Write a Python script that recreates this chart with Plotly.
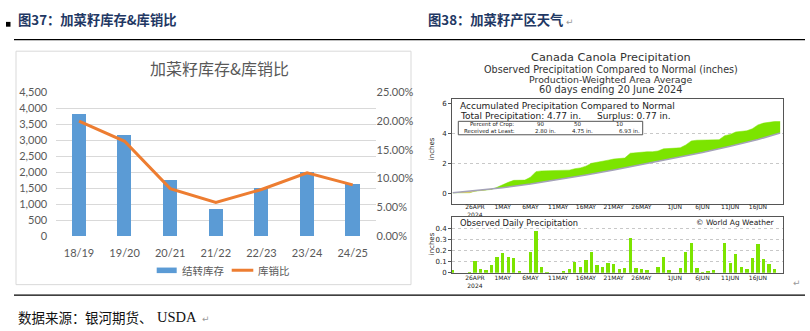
import numpy as np
import plotly.graph_objects as go

W, H = 810, 331


def px(x):
    return x / W


def py(y):
    return 1 - y / H


# ---- Figure 37: canola carry-over stocks and stocks-to-use ratio ----
seasons = ["18/19", "19/20", "20/21", "21/22", "22/23", "23/24", "24/25"]
carryover = [3830, 3180, 1770, 870, 1510, 2010, 1660]
stock_ratio = [0.200, 0.165, 0.0825, 0.0585, 0.081, 0.110, 0.089]

# ---- Figure 38: Canadian canola area precipitation, 60 days to 20 June 2024 ----
daily_precip = [
    0.02, 0.0, 0.0, 0.005, 0.105, 0.03, 0.02, 0.065, 0.145, 0.18,
    0.145, 0.135, 0.015, 0.0, 0.19, 0.375, 0.05, 0.005, 0.0, 0.0,
    0.015, 0.03, 0.095, 0.055, 0.115, 0.19, 0.07, 0.05, 0.09, 0.075,
    0.03, 0.04, 0.315, 0.045, 0.03, 0.025, 0.0, 0.055, 0.14, 0.025,
    0.0, 0.045, 0.19, 0.27, 0.045, 0.005, 0.01, 0.02, 0.0, 0.265,
    0.085, 0.165, 0.05, 0.03, 0.135, 0.255, 0.12, 0.075, 0.03, 0.0,
]
normal_days = [0, 4, 7, 9, 14, 19, 24, 29, 34, 40, 45, 50, 55, 59]
normal_accum = [0.03, 0.17, 0.28, 0.36, 0.60, 0.88, 1.20, 1.54, 1.90, 2.30, 2.70, 3.12, 3.57, 4.00]
tick_days = [4, 9, 14, 19, 24, 29, 34, 40, 45, 50, 55]
tick_text = ["26APR<br>2024", "1MAY", "6MAY", "11MAY", "16MAY", "21MAY",
             "26MAY", "1JUN", "6JUN", "11JUN", "16JUN"]
crop_pct = ["90", "50", "10"]
crop_received = [2.80, 4.75, 6.93]

days = np.arange(len(daily_precip))
obs_accum = np.cumsum(daily_precip)
total = obs_accum[-1]
surplus = total - normal_accum[-1]
deficit_end = 7  # observed stays under normal through this day

BLUE = "#5B9BD5"
ORANGE = "#ED7D31"
GREEN = "#7CE400"
GREY_TXT = "#595959"
NUM_FONT = "Lato"
CJK = "Noto Sans CJK SC"
WX_FONT = "DejaVu Sans"

fig = go.Figure()

fig.add_trace(go.Bar(
    x=seasons, y=carryover, name="结转库存", width=0.31,
    marker=dict(color=BLUE, line=dict(width=0)),
    xaxis="x", yaxis="y", showlegend=False,
))
fig.add_trace(go.Scatter(
    x=seasons, y=stock_ratio, name="库销比", mode="lines",
    line=dict(color=ORANGE, width=3),
    xaxis="x", yaxis="y2", showlegend=False,
))

# accumulated precipitation vs normal
fig.add_trace(go.Scatter(
    x=normal_days, y=normal_accum, mode="lines",
    line=dict(width=0, color="rgba(0,0,0,0)"),
    xaxis="x3", yaxis="y3", showlegend=False, hoverinfo="skip",
))
fig.add_trace(go.Scatter(
    x=days, y=obs_accum, mode="lines", fill="tonexty", fillcolor=GREEN,
    line=dict(width=0.5, color=GREEN),
    xaxis="x3", yaxis="y3", showlegend=False, name="Observed",
))
fig.add_trace(go.Scatter(
    x=normal_days[:3], y=normal_accum[:3], mode="lines",
    line=dict(width=0, color="rgba(0,0,0,0)"),
    xaxis="x3", yaxis="y3", showlegend=False, hoverinfo="skip",
))
fig.add_trace(go.Scatter(
    x=days[:deficit_end + 1], y=obs_accum[:deficit_end + 1], mode="lines",
    fill="tonexty", fillcolor="#F3C37E",
    line=dict(width=0, color="#F3C37E"),
    xaxis="x3", yaxis="y3", showlegend=False, hoverinfo="skip",
))
fig.add_trace(go.Scatter(
    x=normal_days, y=normal_accum, mode="lines", name="Normal",
    line=dict(width=1.5, color="#A4A2B8"),
    xaxis="x3", yaxis="y3", showlegend=False,
))

# observed daily precipitation
fig.add_trace(go.Bar(
    x=days, y=daily_precip, width=0.6, marker=dict(color=GREEN, line=dict(width=0)),
    xaxis="x4", yaxis="y4", showlegend=False, name="Daily",
))

wx_x_domain = [px(452), px(782.7)]
wx_x_range = [-0.13, 59.46]

fig.update_layout(
    width=W, height=H, margin=dict(l=0, r=0, t=0, b=0),
    paper_bgcolor="white", plot_bgcolor="white",
    bargap=0,
    xaxis=dict(
        domain=[px(56.2), px(375.5)], anchor="y", type="category",
        showgrid=False, showline=False, zeroline=False, ticks="",
        tickfont=dict(family=NUM_FONT, size=11, color=GREY_TXT),
        ticklabelstandoff=9,
    ),
    yaxis=dict(
        domain=[py(238.3), py(89)], anchor="x", range=[0, 4500], dtick=500,
        tickformat=",d", showgrid=True, gridcolor="#D9D9D9", gridwidth=1,
        zeroline=False, showline=False, ticks="",
        tickfont=dict(family=NUM_FONT, size=11, color=GREY_TXT),
        ticklabelstandoff=8,
    ),
    yaxis2=dict(
        overlaying="y", side="right", anchor="x", range=[0, 0.25], dtick=0.05,
        tickformat=".2%", showgrid=False, zeroline=False, showline=False, ticks="",
        tickfont=dict(family=NUM_FONT, size=11, color=GREY_TXT),
    ),
    xaxis3=dict(
        domain=wx_x_domain, anchor="y3", range=wx_x_range,
        tickvals=tick_days, ticktext=tick_text, ticks="",
        showgrid=False, zeroline=False, showline=True, mirror=True,
        linecolor="#555555", linewidth=1,
        tickfont=dict(family=WX_FONT, size=6, color="#222222"),
        ticklabelstandoff=-3,
    ),
    yaxis3=dict(
        domain=[py(205), py(96)], anchor="x3", range=[-0.723, 6.256],
        tickvals=[0, 2, 4, 6], showgrid=False, zeroline=False,
        showline=True, mirror=True, linecolor="#555555", linewidth=1,
        ticks="outside", ticklen=3, tickcolor="#555555",
        minor=dict(tickvals=[2, 4], showgrid=True, gridcolor="#C8C8C8",
                   griddash="dot", ticks=""),
        tickfont=dict(family=WX_FONT, size=7, color="#222222"),
    ),
    xaxis4=dict(
        domain=wx_x_domain, anchor="y4", range=wx_x_range,
        tickvals=tick_days, ticktext=tick_text, ticks="",
        showgrid=False, zeroline=False, showline=True, mirror=True,
        linecolor="#555555", linewidth=1,
        tickfont=dict(family=WX_FONT, size=6, color="#222222"),
        ticklabelstandoff=-1,
    ),
    yaxis4=dict(
        domain=[py(276.5), py(218.5)], anchor="x4", range=[0, 0.5],
        tickvals=[0, 0.1, 0.2, 0.3, 0.4], ticktext=["0", "0.1", "0.2", "0.3", "0.4"],
        showgrid=True, gridcolor="#C8C8C8", griddash="dot", zeroline=False,
        showline=True, mirror=True, linecolor="#555555", linewidth=1,
        ticks="outside", ticklen=3, tickcolor="#555555",
        tickfont=dict(family=WX_FONT, size=7, color="#222222"),
    ),
)

shapes = [
    # header bullet and rules
    dict(type="rect", xref="paper", yref="paper", x0=px(6), x1=px(10.5), y0=py(20.5), y1=py(15.5),
         fillcolor="black", line=dict(width=0)),
    dict(type="line", xref="paper", yref="paper", x0=px(14), x1=px(805), y0=py(34), y1=py(34),
         line=dict(color="black", width=1.2)),
    dict(type="line", xref="paper", yref="paper", x0=px(14), x1=px(805), y0=py(300), y1=py(300),
         line=dict(color="black", width=1.2)),
    # chart frame of figure 37
    dict(type="rect", xref="paper", yref="paper", x0=px(16), x1=px(411), y0=py(289), y1=py(46),
         line=dict(color="#D9D9D9", width=1), layer="below"),
    # legend keys
    dict(type="rect", xref="paper", yref="paper", x0=px(156.7), x1=px(176.7), y0=py(277), y1=py(271.2),
         fillcolor=BLUE, line=dict(width=0)),
    dict(type="line", xref="paper", yref="paper", x0=px(231.7), x1=px(253.3), y0=py(274), y1=py(274),
         line=dict(color=ORANGE, width=3)),
    # percent-of-crop box
    dict(type="rect", xref="paper", yref="paper", x0=px(458.3), x1=px(642.7), y0=py(133), y1=py(119),
         fillcolor="white", line=dict(color="#555555", width=1)),
]
fig.update_layout(shapes=shapes)


def note(text, x, y, size, color="#222222", family=WX_FONT, xanchor="left", **kw):
    fig.add_annotation(
        text=text, x=px(x), y=py(y), xref="paper", yref="paper",
        xanchor=xanchor, yanchor="middle", showarrow=False,
        font=dict(family=family, size=size, color=color), **kw,
    )


# headers / footer
note("<b>图37：加菜籽库存&库销比</b>", 16, 13, 13.3, color="#1F3864", family=CJK)
note("<b>图38：加菜籽产区天气</b>", 426, 13, 13.3, color="#1F3864", family=CJK)
note("↵", 564, 16, 9, color="#9A9A9A")
note("数据来源：", 16, 323, 13.5, color="#111111", family=CJK)
note("银河期货、", 83, 323, 13.5, color="#111111", family=CJK)
note("USDA", 155, 323, 14.5, color="#111111", family="Liberation Serif")
note("↵", 200, 325, 9, color="#9A9A9A")
note("↵", 791, 287, 9, color="#9A9A9A")

# figure 37 title and legend
note("加菜籽库存&库销比", 219.5, 63, 16, color=GREY_TXT, family=CJK, xanchor="center")
note("结转库存", 179.5, 274, 10.5, color=GREY_TXT, family=CJK)
note("库销比", 256, 274, 10.5, color=GREY_TXT, family=CJK)

# figure 38 titles
note("Canada Canola Precipitation", 611, 52.5, 11.3, color="#333333", xanchor="center")
note("Observed Precipitation Compared to Normal (inches)", 611, 65, 9.6, color="#333333", xanchor="center")
note("Production-Weighted Area Average", 611, 75.5, 9.4, color="#333333", xanchor="center")
note("60 days ending 20 June 2024", 611, 86, 9.8, color="#333333", xanchor="center")

note("Accumulated Precipitation Compared to Normal", 458, 103.3, 9)
note(f"Total Precipitation: {total:.2f} in.", 458, 113.3, 9)
note(f"Surplus: {surplus:.2f} in.", 595, 113.3, 9)
note("Percent of Crop:", 468, 122.3, 5.5)
note("Received at Least:", 461.7, 129.2, 5.5)
for pct, cx in zip(crop_pct, [540.5, 577.5, 619]):
    note(pct, cx, 122.3, 5.5, xanchor="center")
for amt, lx in zip(crop_received, [532.7, 570, 616.7]):
    note(f"{amt:.2f} in.", lx, 129.2, 5.5)

note("inches", 432, 148, 7, textangle=-90, xanchor="center")
note("Observed Daily Precipitation", 458, 225, 8.3)
note("© World Ag Weather", 777, 224.5, 7.5, xanchor="right")
note("inches", 432, 247, 7, textangle=-90, xanchor="center")

fig.write_html("out.html")
